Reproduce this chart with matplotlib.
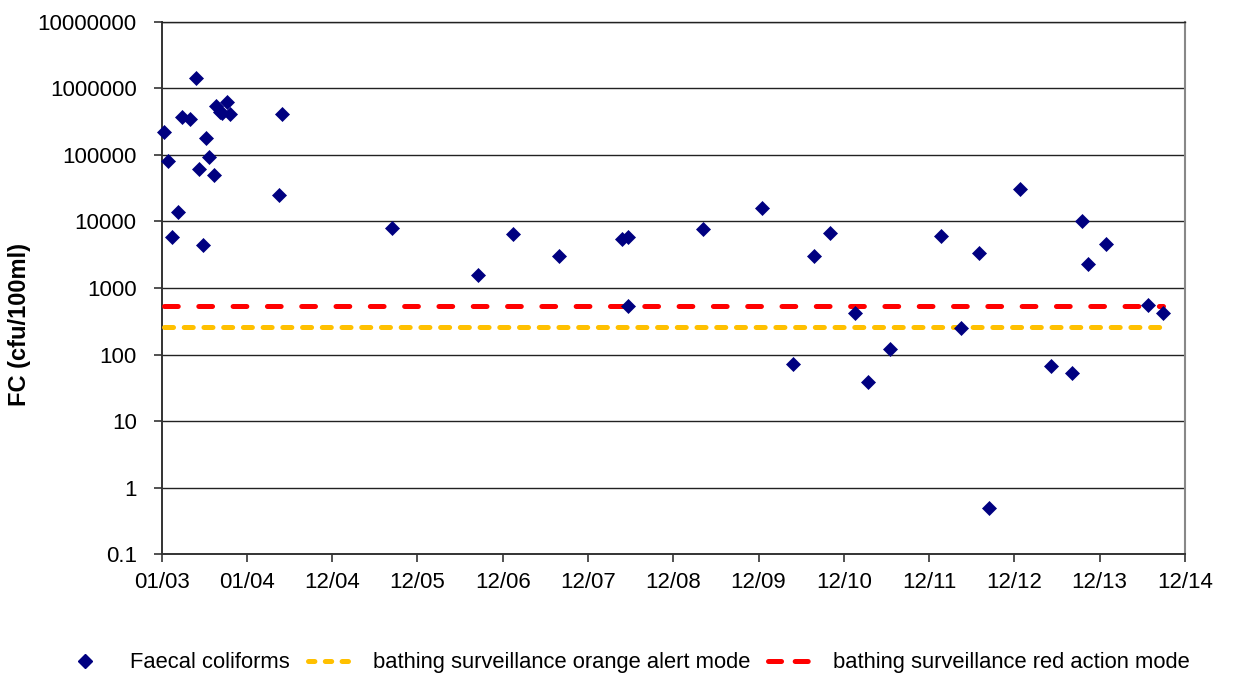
import matplotlib
matplotlib.use("Agg")
import matplotlib.pyplot as plt
import matplotlib.dates as mdates
from matplotlib.lines import Line2D
from datetime import date, timedelta

# Faecal coliform sampling results (cfu/100ml)
sample_dates = [
    "2003-01-11", "2003-01-29", "2003-02-14", "2003-03-12", "2003-03-30",
    "2003-05-02", "2003-05-27", "2003-06-12", "2003-06-25", "2003-07-10",
    "2003-07-24", "2003-08-13", "2003-08-23", "2003-09-09", "2003-09-18",
    "2003-10-06", "2003-10-22", "2004-05-17", "2004-06-01", "2005-09-13",
    "2006-09-17", "2007-02-13", "2007-08-27", "2008-05-26", "2008-06-19",
    "2008-06-20", "2009-05-06", "2010-01-14", "2010-05-25", "2010-08-24",
    "2010-11-02", "2011-02-16", "2011-04-14", "2011-07-17", "2012-02-19",
    "2012-05-16", "2012-07-30", "2012-09-13", "2013-01-20", "2013-06-04",
    "2013-08-31", "2013-10-13", "2013-11-10", "2014-01-26", "2014-07-24",
    "2014-09-27",
]
fc_values = [
    224000, 81000, 5900, 14100, 366000,
    346000, 1430000, 61000, 4430, 182000,
    93000, 50400, 542000, 440000, 420000,
    629000, 411000, 25200, 410000, 8050,
    1590, 6480, 3000, 5400, 5780,
    531, 7700, 15900, 73, 3030,
    6780, 426, 39, 120, 6040,
    251, 3320, 0.49, 31200, 67,
    53.5, 10000, 2300, 4630, 562,
    417,
]

# Bathing surveillance thresholds (cfu/100ml)
orange_alert = 260
red_action = 540

y_tick_values = [0.1, 1, 10, 100, 1000, 10000, 100000, 1000000, 10000000]
y_tick_labels = ["0.1", "1", "10", "100", "1000", "10000", "100000",
                 "1000000", "10000000"]
x_tick_labels = ["01/03", "01/04", "12/04", "12/05", "12/06", "12/07", "12/08",
                 "12/09", "12/10", "12/11", "12/12", "12/13", "12/14"]
axis_start = "2003-01-01"
tick_step_days = 365

NAVY = "#000080"
ORANGE = "#FFC000"
RED = "#FF0000"
FONT = "Liberation Sans"

plt.rcParams["font.family"] = [FONT, "DejaVu Sans"]
plt.rcParams["lines.scale_dashes"] = False

fig = plt.figure(figsize=(12.33, 6.77), dpi=100)
ax = fig.add_axes([0.1311, 0.1812, 0.8299, 0.7867])

dates = [date.fromisoformat(d) for d in sample_dates]
start = date.fromisoformat(axis_start)
ticks = [start + timedelta(days=tick_step_days * k) for k in range(len(x_tick_labels))]

# threshold lines span the sampling period
line_x = [dates[0], dates[-1]]
ax.plot(line_x, [orange_alert] * 2, color=ORANGE, lw=3.6,
        dashes=(6.5, 7.7), dash_capstyle="round", zorder=3)
ax.plot(line_x, [red_action] * 2, color=RED, lw=3.6,
        dashes=(9.9, 14.8), dash_capstyle="round", zorder=3)
ax.plot(dates, fc_values, linestyle="none", marker="D", ms=6.7,
        color=NAVY, mec=NAVY, mew=0.5, zorder=4, clip_on=False)

ax.set_yscale("log")
ax.set_ylim(y_tick_values[0], y_tick_values[-1])
ax.set_yticks(y_tick_values)
ax.set_yticklabels(y_tick_labels)
ax.yaxis.set_minor_locator(matplotlib.ticker.NullLocator())

ax.set_xlim(mdates.date2num(ticks[0]), mdates.date2num(ticks[-1]))
ax.set_xticks([mdates.date2num(t) for t in ticks])
ax.set_xticklabels(x_tick_labels)
ax.xaxis.set_minor_locator(matplotlib.ticker.NullLocator())

ax.grid(axis="y", which="major", color="#222222", lw=1.0, zorder=1)
ax.set_axisbelow(True)

for side in ("left", "bottom"):
    ax.spines[side].set_color("#333333")
    ax.spines[side].set_linewidth(1.4)
ax.spines["top"].set_color("#222222")
ax.spines["top"].set_linewidth(1.0)
ax.spines["right"].set_color("#888888")
ax.spines["right"].set_linewidth(1.5)

ax.tick_params(axis="both", direction="out", length=6, width=1.2,
               color="#333333", labelsize=16, labelcolor="black")
ax.tick_params(axis="y", pad=12)
ax.tick_params(axis="x", pad=7)

fig.text(0.0162, 0.521, "FC (cfu/100ml)", rotation=90, ha="center",
         va="center", fontsize=17, fontweight="bold")

# legend swatches: three short orange dashes, two longer red dashes
handles = [
    Line2D([], [], linestyle="none", marker="D", ms=6.7, color=NAVY),
    Line2D([], [], color=ORANGE, lw=3.6, dashes=(4.6, 7.5), dash_capstyle="round"),
    Line2D([], [], color=RED, lw=3.6, dashes=(9.4, 9.8), dash_capstyle="round"),
]
labels = ["Faecal coliforms", "bathing surveillance orange alert mode",
          "bathing surveillance red action mode"]
fig.legend(handles, labels, loc="center", bbox_to_anchor=(0.509, 0.021),
           ncol=3, frameon=False, fontsize=15.8, handlelength=1.83,
           handletextpad=1.15, columnspacing=0.8, borderaxespad=0)

fig.savefig("out.png", dpi=100)
